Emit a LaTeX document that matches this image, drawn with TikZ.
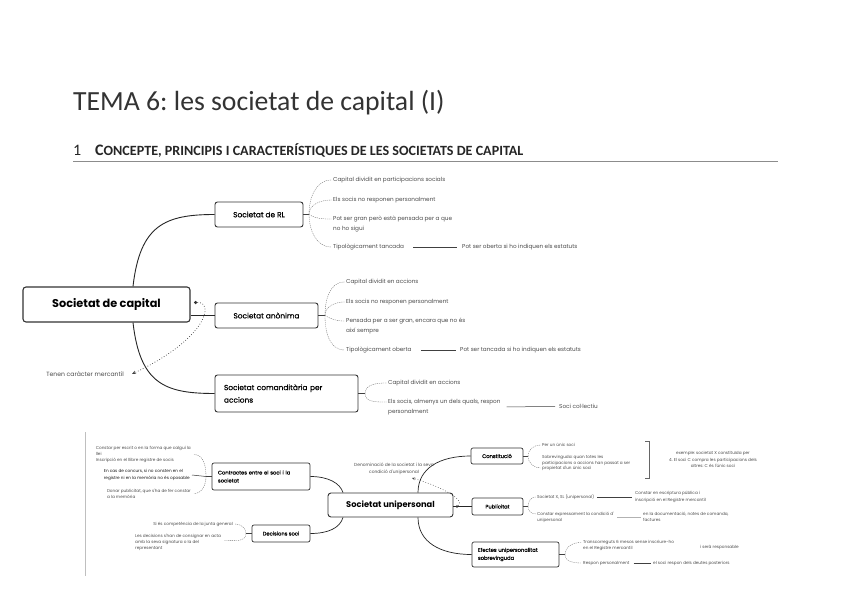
\documentclass[tikz,border=0pt]{standalone}
\usepackage{fontspec}
\setmainfont{Carlito}
\newfontfamily\pop{Poppins}
\newfontfamily\popm[FakeBold=0.6]{Poppins}
\usetikzlibrary{arrows.meta}
\frenchspacing
\begin{document}
\begin{tikzpicture}[x=1pt,y=-1pt,
  mainbox/.style={draw=black!80, line width=1.1pt, rounded corners=3pt, fill=white, inner sep=0pt},
  subbox/.style={draw=black!80, line width=0.9pt, rounded corners=2.5pt, fill=white, inner sep=0pt, font=\popm\fontsize{7.4}{9}\selectfont},
  lbox/.style={draw=black!80, line width=0.7pt, rounded corners=2pt, fill=white, inner sep=0pt, font=\popm\fontsize{5.2}{8}\selectfont},
  leaf/.style={anchor=west, inner sep=0pt, font=\pop\fontsize{5.7}{9.8}\selectfont, text=black!70, align=left},
  sleaf/.style={anchor=west, inner sep=0pt, font=\pop\fontsize{4.2}{6.2}\selectfont, text=black!70, align=left},
  branch/.style={draw=black!85, line width=0.9pt},
  twig/.style={draw=black!55, line width=0.35pt, dash pattern=on 1.2pt off 0.9pt},
  link/.style={draw=black!75, line width=0.5pt},
  rel/.style={draw=black!75, line width=0.7pt, dotted, -{Stealth[length=4pt,width=3.5pt]}},
  dotn/.style={circle, fill=black!80, inner sep=0pt, minimum size=3.5pt},
]
\useasboundingbox (0,0) rectangle (848,599);
\fill[white] (0,0) rectangle (848,599);

% ---------- title and heading ----------
\node[anchor=base west, inner sep=0pt, font=\fontsize{27.7}{30}\selectfont, text=black!80] (title) at (73,111) {TEMA 6: les societat de capital (I)};
\node[anchor=base west, inner sep=0pt, font=\fontsize{16}{18}\selectfont, text=black!85] (hnum) at (73,155) {1};
\node[anchor=base west, inner sep=0pt, text=black!85, font=\bfseries] (htext) at (95,155) {{\fontsize{16}{18}\selectfont C}{\fontsize{14.1}{16}\selectfont ONCEPTE, PRINCIPIS I CARACTERÍSTIQUES DE LES SOCIETATS DE CAPITAL}};
\draw[black!45, line width=0.6pt] (73,161) -- (778,161);

% ---------- upper mind map ----------
\node[mainbox, minimum width=167pt, minimum height=35pt, font=\pop\bfseries\fontsize{11.3}{13}\selectfont] (sc) at (106.5,304.5) {Societat de capital};
\node[subbox, minimum width=88pt, minimum height=25pt] (rl) at (259,214.5) {Societat de RL};
\node[subbox, minimum width=103pt, minimum height=25pt] (an) at (266.5,315.5) {Societat anònima};
\node[subbox, minimum width=143pt, minimum height=37pt, align=left, text width=125pt, font=\popm\fontsize{7.4}{12.5}\selectfont] (cm) at (286.5,393.5) {Societat comanditària per\\accions};

\draw[branch] ([xshift=26.5pt]sc.north) .. controls (140,225) and (165,214.5) .. (rl.west);
\draw[branch] (sc.east |- an.west) -- (an.west);
\draw[branch] ([xshift=26.5pt]sc.south) .. controls (140,384) and (165,393.5) .. (cm.west);

\node[dotn] (d1) at (195.5,302.5) {};
\node[anchor=east, inner sep=0pt, font=\pop\fontsize{6.1}{7}\selectfont, text=black!70] (mer) at (124,374) {Tenen caràcter mercantil};
\coordinate (a1) at (132,374);
\draw[rel] (d1) .. controls (214,302) and (208,338) .. (a1);

% RL leaves
\coordinate (jrl) at (309,214.5);
\draw[link] (rl.east) -- (jrl);
\node[leaf] (rl1) at (333,180) {Capital dividit en participacions socials};
\node[leaf] (rl2) at (333,200) {Els socis no responen personalment};
\node[leaf] (rl3) at (333,223.9) {Pot ser gran però està pensada per a que\\no ho sigui};
\node[leaf] (rl4) at (333,247) {Tipològicament tancada};
\node[leaf] (rl5) at (462,247) {Pot ser oberta si ho indiquen els estatuts};
\draw[twig] (jrl) to[out=90,in=180] ([xshift=-1.5pt]rl1.west);
\draw[twig] (jrl) to[out=90,in=180] ([xshift=-1.5pt]rl2.west);
\draw[twig] (jrl) to[out=-30,in=180] ([xshift=-1.5pt,yshift=4.9pt]rl3.west);
\draw[twig] (jrl) to[out=-90,in=180] ([xshift=-1.5pt]rl4.west);
\draw[link] ([xshift=9pt]rl4.east) -- ([xshift=-5pt]rl5.west);

% SA leaves
\coordinate (jan) at (325,315.5);
\draw[link] (an.east) -- (jan);
\node[leaf] (an1) at (346,282) {Capital dividit en accions};
\node[leaf] (an2) at (346,302) {Els socis no responen personalment};
\node[leaf] (an3) at (346,325.9) {Pensada per a ser gran, encara que no és\\així sempre};
\node[leaf] (an4) at (346,350) {Tipològicament oberta};
\node[leaf] (an5) at (460,350) {Pot ser tancada si ho indiquen els estatuts};
\draw[twig] (jan) to[out=90,in=180] ([xshift=-1.5pt]an1.west);
\draw[twig] (jan) to[out=90,in=180] ([xshift=-1.5pt]an2.west);
\draw[twig] (jan) to[out=-30,in=180] ([xshift=-1.5pt,yshift=4.9pt]an3.west);
\draw[twig] (jan) to[out=-90,in=180] ([xshift=-1.5pt]an4.west);
\draw[link] ([xshift=9pt]an4.east) -- ([xshift=-4pt]an5.west);

% SCA leaves
\coordinate (jcm) at (365,393.5);
\draw[link] (cm.east) -- (jcm);
\node[leaf] (cm1) at (388,383) {Capital dividit en accions};
\node[leaf] (cm2) at (388,406.9) {Els socis, almenys un dels quals, respon\\personalment};
\node[leaf] (cm3) at (559,406.5) {Soci col·lectiu};
\draw[twig] (jcm) to[out=90,in=180] ([xshift=-1.5pt]cm1.west);
\draw[twig] (jcm) to[out=-90,in=180] ([xshift=-1.5pt,yshift=4.9pt]cm2.west);
\draw[link] ([xshift=6pt]cm2.east) -- ([xshift=-4pt]cm3.west);

% ---------- lower mind map ----------
\draw[black!25, line width=0.4pt] (85,432) -- (85,576);

\node[mainbox, line width=0.9pt, minimum width=125pt, minimum height=24pt, font=\pop\bfseries\fontsize{8.3}{10}\selectfont] (su) at (390.5,505) {Societat unipersonal};
\node[lbox, minimum width=52pt, minimum height=16pt] (co) at (497,456) {Constitució};
\node[lbox, minimum width=51pt, minimum height=17pt] (pu) at (497.5,506.5) {Publicitat};
\node[lbox, minimum width=87pt, minimum height=25pt, align=left, text width=75pt] (ef) at (515.5,554.5) {Efectes unipersonalitat\\sobrevinguda};
\node[lbox, minimum width=98pt, minimum height=27pt, align=left, text width=86pt] (ct) at (261,476.5) {Contractes entre el soci i la\\societat};
\node[lbox, minimum width=58pt, minimum height=17pt] (ds) at (281,533.5) {Decisions soci};

\draw[branch, line width=0.7pt] ([xshift=27.5pt]su.north) .. controls (418,468) and (440,456) .. (co.west);
\draw[branch, line width=0.7pt] (su.east |- pu.west) -- (pu.west);
\draw[branch, line width=0.7pt] ([xshift=27.5pt]su.south) .. controls (418,542) and (440,554.5) .. (ef.west);
\draw[branch, line width=0.7pt] ([xshift=-47.5pt]su.north) .. controls (340,483) and (328,476.5) .. (ct.east);
\draw[branch, line width=0.7pt] ([xshift=-47.5pt]su.south) .. controls (340,528) and (328,533.5) .. (ds.east);

\node[dotn, minimum size=2.8pt] (d2) at (457,506.5) {};
\node[inner sep=0pt, align=center, font=\pop\fontsize{4.4}{7}\selectfont, text=black!70] (lab2) at (394,468.5) {Denominació de la societat i la seva\\condició d'unipersonal};
\coordinate (a2) at (412,478);
\draw[rel, line width=0.55pt, -{Stealth[length=3pt,width=2.6pt]}] (d2) .. controls (466,500) and (440,486) .. (a2);

% Constitucio
\coordinate (jco) at (528,456);
\draw[link] (co.east) -- (jco);
\node[sleaf] (co1) at (542,445) {Per un únic soci};
\node[sleaf, font=\pop\fontsize{4.2}{5.3}\selectfont] (co2) at (542,463) {Sobrevinguda: quan totes les\\participacions o accions han passat a ser\\propietat d'un únic soci};
\draw[twig] (jco) to[out=90,in=180] ([xshift=-1.5pt]co1.west);
\draw[twig] (jco) to[out=-90,in=180] ([xshift=-1.5pt,yshift=-5pt]co2.west);
\draw[black!60, line width=0.6pt] (645,441) -- (649,441) -- (649,478) -- (645,478);
\node[inner sep=0pt, align=center, font=\pop\fontsize{4.2}{6.3}\selectfont, text=black!70] (co3) at (713,459.5) {exemple: societat X constituïda per\\4. El soci C compra les participacions dels\\altres: C és l'únic soci};

% Publicitat
\coordinate (jpu) at (528,506.5);
\draw[link] (pu.east) -- (jpu);
\node[sleaf] (pu1) at (537,497) {Societat X, SL (unipersonal)};
\node[sleaf] (pu2) at (635,497) {Constar en escriptura pública i\\inscripció en el Registre mercantil};
\node[sleaf] (pu3) at (537,517) {Constar expressament la condició d'\\unipersonal};
\node[sleaf] (pu4) at (643,517) {en la documentació, notes de comanda,\\factures};
\draw[twig] (jpu) to[out=90,in=180] ([xshift=-1.5pt]pu1.west);
\draw[twig] (jpu) to[out=-90,in=180] ([xshift=-1.5pt,yshift=3.1pt]pu3.west);
\draw[link] ([xshift=3pt]pu1.east) -- ([xshift=-3pt]pu2.west);
\draw[link, black!30] ([xshift=3pt]pu3.east) -- ([xshift=-2pt]pu4.west);

% Efectes
\coordinate (jef) at (565,554.5);
\draw[link] (ef.east) -- (jef);
\node[sleaf] (ef1) at (583,545.5) {Transcorreguts 6 mesos sense inscriure-ho\\en el Registre mercantil};
\node[sleaf] (ef2) at (700,547) {i serà responsable};
\node[sleaf] (ef3) at (583,563) {Respon personalment};
\node[sleaf] (ef4) at (653,563) {el soci respon dels deutes posteriors};
\draw[twig] (jef) to[out=90,in=180] ([xshift=-1.5pt,yshift=3.1pt]ef1.west);
\draw[twig] (jef) to[out=-90,in=180] ([xshift=-1.5pt]ef3.west);
\draw[link] ([xshift=4pt]ef3.east) -- ([xshift=-2pt]ef4.west);

% Contractes
\coordinate (jct) at (206,476.5);
\draw[link] (ct.west) -- (jct);
\node[sleaf, anchor=east] (ct1) at (191,454.5) {Constar per escrit o en la forma que calgui la\\llei\\Inscripció en el llibre registre de socis};
\node[sleaf, anchor=east, text=black!90] (ct2) at (190,475) {En cas de concurs, si no consten en el\\registre ni en la memòria no és oposable};
\node[sleaf, anchor=east] (ct3) at (191,493.5) {Donar publicitat, que s'ha de fer constar\\a la memòria};
\draw[twig] (jct) to[out=90,in=0] ([xshift=3pt]ct1.east);
\draw[link, black!80] (jct) -- ([xshift=2pt]ct2.east);
\draw[twig] (jct) to[out=-90,in=0] ([xshift=3pt]ct3.east);

% Decisions
\coordinate (jds) at (246,533.5);
\draw[link] (ds.west) -- (jds);
\node[sleaf, anchor=east] (ds1) at (233,524) {Si és competència de la junta general};
\node[sleaf] (ds2) at (135,542.5) {Les decisions s'han de consignar en acta\\amb la seva signatura o la del\\representant};
\draw[twig] (jds) to[out=90,in=0] ([xshift=2pt]ds1.east);
\draw[twig] (jds) to[out=-90,in=0] ([xshift=3pt,yshift=2pt]ds2.east);
\end{tikzpicture}
\end{document}
